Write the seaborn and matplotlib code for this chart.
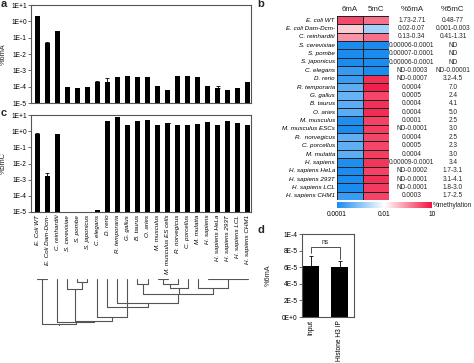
import numpy as np
import pandas as pd
import matplotlib
matplotlib.use("Agg")
import matplotlib.pyplot as plt
import seaborn as sns
from matplotlib.colors import LinearSegmentedColormap, TwoSlopeNorm

# ---- data -------------------------------------------------------------
bar_labels = ["E. Coli WT", "E. Coli Dam-Dcm-", "C. reinhardtii", "S. cerevisiae",
              "S. pombe", "S. japonicus", "C. elegans", "D. rerio", "R. temporaria",
              "G. gallus", "B. taurus", "O. aries", "M. musculus", "M. musculus ES cells",
              "R. norvegicus", "C. porcellus", "M. mulatta", "H. sapiens",
              "H. sapiens HeLa", "H. sapiens 293T", "H. sapiens LCL", "H. sapiens CHM1"]

heat_labels = ["E. coli WT", "E. coli Dam-Dcm-", "C. reinhardtii", "S. cerevisiae",
               "S. pombe", "S. japonicus", "C. elegans", "D. rerio", "R. temporaria",
               "G. gallus", "B. taurus", "O. aries", "M. musculus", "M. musculus ESCs",
               "R.  norvegicus", "C. porcellus", "M. mulatta", "H. sapiens",
               "H. sapiens HeLa", "H. sapiens 293T", "H. sapiens LCL", "H. sapiens CHM1"]

pct_6ma = [2.2, 0.045, 0.24, 9.5e-5, 8e-5, 9e-5, 1.8e-4, 1.9e-4, 3.9e-4, 4.7e-4,
           3.7e-4, 3.7e-4, 1.1e-4, 6.6e-5, 4.2e-4, 4.2e-4, 3.9e-4, 1.1e-4,
           8.5e-5, 6e-5, 8e-5, 1.9e-4]
err_6ma = [0, 0.01, 0, 0, 0, 0, 5e-5, 1.3e-4, 0, 0, 0, 0, 0, 0, 0, 0, 0, 0,
           2.5e-5, 0, 0, 0]

pct_5mc = [0.65, 1.6e-3, 0.65, 0, 0, 0, 1.25e-5, 4.5, 7.2, 2.3, 4.1, 4.9, 2.5,
           3.0, 2.3, 2.3, 2.8, 3.7, 2.5, 4.0, 3.2, 2.4]
err_5mc = [0.15, 1.0e-3, 0, 0, 0, 0, 0, 0, 0, 0, 0, 0, 0, 0.3, 0, 0, 0, 0,
           0, 0, 0, 0]

log_ticks = [1e1, 1e0, 1e-1, 1e-2, 1e-3, 1e-4, 1e-5]
log_tick_labels = ["1E+1", "1E+0", "1E-1", "1E-2", "1E-3", "1E-4", "1E-5"]

table_6ma = ["1.73-2.71", "0.02-0.07", "0.13-0.34", "0.00006-0.0001", "0.00007-0.0001",
             "0.00006-0.0001", "ND-0.0003", "ND-0.0007", "0.0004", "0.0005", "0.0004",
             "0.0004", "0.0001", "ND-0.0001", "0.0004", "0.0005", "0.0004",
             "0.00009-0.0001", "ND-0.0002", "ND-0.0001", "ND-0.0001", "0.0003"]
table_5mc = ["0.48-77", "0.001-0.003", "0.41-1.31", "ND", "ND", "ND", "ND-0.00001",
             "3.2-4.5", "7.0", "2.4", "4.1", "5.0", "2.5", "3.0", "2.5", "2.3", "3.0",
             "3.4", "1.7-3.1", "3.1-4.1", "1.8-3.0", "1.7-2.5"]

cbar_ticks = [-4, -2, 1]
cbar_tick_labels = ["0.0001", "0.01", "10"]

# dendrogram: leaves are groups of bars; merges = (children, height), polytomies allowed
leaf_groups = [[0, 1], [2], [3], [4], [5], [6], [7], [8], [9], [10], [11],
               [12, 13], [14], [15], [16], [17, 18, 19, 20, 21]]
merges = [((3, 4), 7), ((2, 16), 30), ((9, 10), 15), ((11, 12), 15), ((19, 13), 25),
          ((14, 15), 25), ((18, 20, 21), 45), ((7, 22), 72), ((6, 8, 23), 85),
          ((5, 24), 115), ((17, 25), 125), ((1, 26), 130), ((0, 27), 135)]

d_groups = ["Input", "Histone H3 IP"]
d_values = [6.2e-5, 6.0e-5]
d_errors = [1.1e-5, 0.7e-5]
d_ticks = [0, 2e-5, 4e-5, 6e-5, 8e-5, 1e-4]
d_tick_labels = ["0E+0", "2E-5", "4E-5", "6E-5", "8E-5", "1E-4"]

# ---- style --------------------------------------------------------------
sns.set_style("ticks")
plt.rcParams["font.family"] = ["Liberation Sans", "DejaVu Sans"]
plt.rcParams["axes.edgecolor"] = "#555555"
plt.rcParams["axes.linewidth"] = 0.8
plt.rcParams["xtick.color"] = "#555555"
plt.rcParams["ytick.color"] = "#555555"
plt.rcParams["xtick.labelcolor"] = "black"
plt.rcParams["ytick.labelcolor"] = "black"

fs = 4.5
fig = plt.figure(figsize=(4.74, 3.63), dpi=100)

W, H = 474.0, 363.0
def box(x0, y0, x1, y1):
    return [x0 / W, 1 - y1 / H, (x1 - x0) / W, (y1 - y0) / H]

ax_a = fig.add_axes(box(31, 5, 251, 103))
ax_c = fig.add_axes(box(31, 115, 251, 212))
ax_t = fig.add_axes(box(31, 279, 251, 328))
ax_h = fig.add_axes(box(337, 16, 389, 200))
ax_cb = fig.add_axes(box(337, 202, 432, 208))
ax_d = fig.add_axes(box(302, 234, 354, 317))

xpos = np.arange(len(bar_labels))
df = pd.DataFrame({"species": bar_labels, "m6A": pct_6ma, "m5C": pct_5mc,
                   "e6": err_6ma, "e5": err_5mc})

for ax, col, ecol, ylab in [(ax_a, "m6A", "e6", "%6mA"), (ax_c, "m5C", "e5", "%5mC")]:
    ax.set_yscale("log")
    sns.barplot(data=df, x="species", y=col, color="black", width=0.48,
                errorbar=None, ax=ax, saturation=1, edgecolor="black", linewidth=0)
    sub = df[df[ecol] > 0]
    ax.errorbar(sub.index, sub[col], yerr=[np.zeros(len(sub)), sub[ecol]],
                fmt="none", ecolor="black", elinewidth=0.6, capsize=1.5, capthick=0.6)
    ax.set_ylim(1e-5, 1e1)
    ax.set_xlim(-0.63, 21.33)
    ax.set_yticks(log_ticks)
    ax.set_yticklabels(log_tick_labels, fontsize=fs + 0.3)
    ax.yaxis.set_minor_locator(matplotlib.ticker.NullLocator())
    ax.tick_params(axis="y", length=2, width=0.6, pad=1)
    ax.set_ylabel(ylab, fontsize=fs + 0.8)
    ax.yaxis.set_label_coords(-0.11, 0.5)
    ax.set_xlabel("")

ax_a.set_xticks([])
ax_c.set_xticks(xpos)
ax_c.set_xticklabels(bar_labels, rotation=90, fontsize=fs, style="italic")
ax_c.tick_params(axis="x", length=0, pad=2)

# dendrogram
node_x = [np.mean(g) for g in leaf_groups]
node_h = [0.0] * len(leaf_groups)
lc = "#555555"
for g in leaf_groups:
    if len(g) > 1:
        ax_t.plot([g[0], g[-1]], [0, 0], color=lc, lw=0.8)
for kids, h in merges:
    xs = [node_x[k] for k in kids]
    for k in kids:
        ax_t.plot([node_x[k], node_x[k]], [node_h[k], h], color=lc, lw=0.8)
    ax_t.plot([min(xs), max(xs)], [h, h], color=lc, lw=0.8)
    node_x.append((min(xs) + max(xs)) / 2)
    node_h.append(h)
ax_t.plot([node_x[-1], node_x[-1]], [node_h[-1], node_h[-1] + 4], color=lc, lw=0.8)
ax_t.set_xlim(-0.63, 21.33)
ax_t.set_ylim(147, -1)
ax_t.axis("off")

# heatmap
heat = pd.DataFrame({"6mA": np.log10(np.clip(pct_6ma, 1e-5, None)),
                     "5mC": np.log10(np.clip(pct_5mc, 1e-5, None))},
                    index=heat_labels)
cmap = LinearSegmentedColormap.from_list("meth", ["#1a8cf0", "#ffffff", "#f01440"])
norm = TwoSlopeNorm(vmin=-4, vcenter=-2, vmax=1)
sns.heatmap(heat, ax=ax_h, cmap=cmap, norm=norm, linewidths=0.6, linecolor="#222222",
            cbar_ax=ax_cb, cbar_kws={"orientation": "horizontal"},
            xticklabels=False, yticklabels=True)
ax_h.set_yticklabels(heat_labels, fontsize=fs, style="italic", rotation=0)
ax_h.tick_params(axis="y", length=0, pad=1.5)
ax_h.set_ylabel("")
for i, lab in enumerate(["6mA", "5mC"]):
    ax_h.text(i + 0.5, -0.72, lab, ha="center", va="center", fontsize=fs + 1.2)
ax_h.text(2.88, -0.72, "%6mA", ha="center", va="center", fontsize=fs + 1.2)
ax_h.text(4.46, -0.72, "%5mC", ha="center", va="center", fontsize=fs + 1.2)
for i in range(len(heat_labels)):
    ax_h.text(2.88, i + 0.5, table_6ma[i], ha="center", va="center", fontsize=fs + 0.2)
    ax_h.text(4.46, i + 0.5, table_5mc[i], ha="center", va="center", fontsize=fs + 0.2)

ax_cb.set_xticks(cbar_ticks)
ax_cb.set_xticklabels(cbar_tick_labels, fontsize=fs + 0.2)
ax_cb.tick_params(axis="x", length=0, pad=2)
for s in ax_cb.spines.values():
    s.set_visible(False)
if ax_h.collections[0].colorbar is not None:
    ax_h.collections[0].colorbar.outline.set_visible(False)
fig.text(433 / W, 1 - 205 / H, "%methylation", fontsize=fs + 0.2, ha="left", va="center")

# panel d
ddf = pd.DataFrame({"group": d_groups, "val": d_values, "err": d_errors})
sns.barplot(data=ddf, x="group", y="val", color="black", width=0.58,
            errorbar=None, ax=ax_d, saturation=1, edgecolor="black", linewidth=0)
ax_d.errorbar(ddf.index, ddf["val"], yerr=[np.zeros(2), ddf["err"]], fmt="none",
              ecolor="black", elinewidth=0.6, capsize=1.5, capthick=0.6)
ax_d.set_xlim(-0.32, 1.5)
ax_d.set_ylim(0, 1e-4)
ax_d.set_yticks(d_ticks)
ax_d.set_yticklabels(d_tick_labels, fontsize=fs + 0.3)
ax_d.tick_params(axis="y", length=2, width=0.6, pad=1)
ax_d.set_xticks([0, 1])
ax_d.set_xticklabels(d_groups, rotation=90, fontsize=fs + 0.3)
ax_d.tick_params(axis="x", length=0, pad=2)
ax_d.set_xlabel("")
ax_d.set_ylabel("%6mA", fontsize=fs + 0.8)
ax_d.yaxis.set_label_coords(-0.58, 0.5)
ax_d.plot([0, 0, 1, 1], [7.7e-5, 8.4e-5, 8.4e-5, 7.0e-5], color="#333333", lw=0.6)
ax_d.text(0.5, 8.5e-5, "ns", ha="center", va="bottom", fontsize=fs + 0.3)

# panel letters
for x, y, s in [(1, 4, "a"), (257, 4, "b"), (1, 113, "c"), (257, 230, "d")]:
    fig.text(x / W, 1 - y / H, s, fontsize=8, fontweight="bold", va="center", ha="left")

fig.savefig("out.png", dpi=100)
